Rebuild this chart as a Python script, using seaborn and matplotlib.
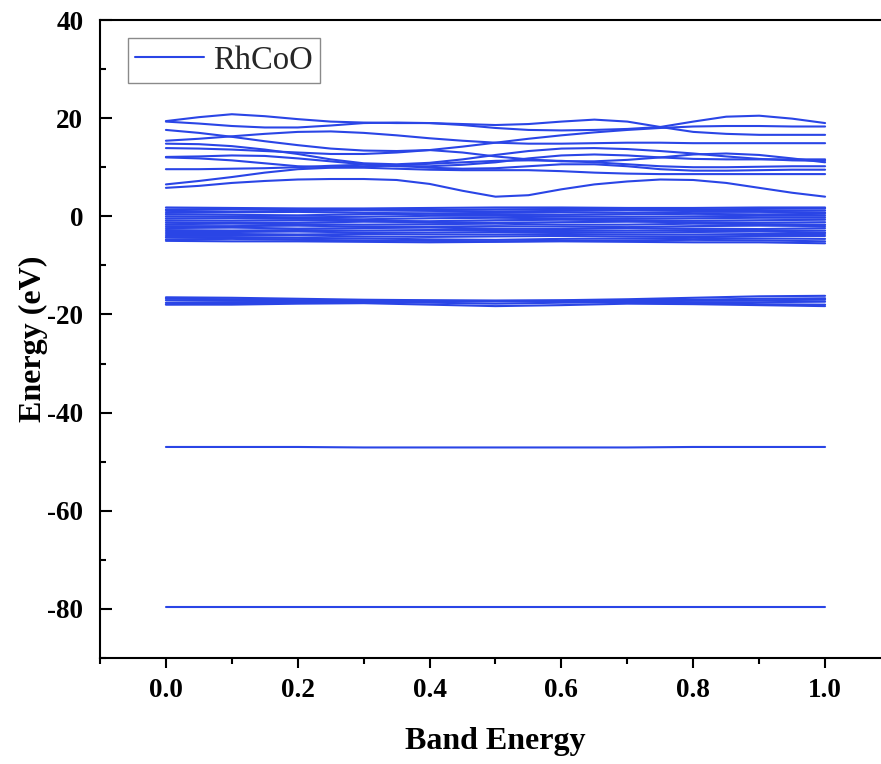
import matplotlib
matplotlib.use("Agg")
import numpy as np
import pandas as pd
import seaborn as sns
import matplotlib.pyplot as plt
from matplotlib.ticker import MultipleLocator, FormatStrFormatter

# ---------------------------------------------------------------- data
# k-path coordinates (fine grid for dispersive conduction bands,
# coarse grid for the nearly flat valence / semicore bands)
K_FINE = [0.0, 0.05, 0.1, 0.15, 0.2, 0.25, 0.3, 0.35, 0.4, 0.45, 0.5,
          0.55, 0.6, 0.65, 0.7, 0.75, 0.8, 0.85, 0.9, 0.95, 1.0]
K_COARSE = [0.0, 0.1, 0.2, 0.3, 0.4, 0.5, 0.6, 0.7, 0.8, 0.9, 1.0]

# conduction bands (eV) on K_FINE
upper_bands = [
    [19.4, 20.2, 20.8, 20.4, 19.8, 19.3, 19.1, 19.0, 19.0, 18.8, 18.6,
     18.8, 19.3, 19.7, 19.3, 18.2, 17.2, 16.8, 16.6, 16.6, 16.6],
    [19.3, 18.9, 18.4, 18.1, 18.1, 18.5, 19.0, 19.1, 19.0, 18.6, 18.0,
     17.6, 17.5, 17.6, 17.8, 18.2, 19.3, 20.3, 20.5, 19.9, 19.0],
    [17.6, 17.0, 16.2, 15.3, 14.5, 13.8, 13.4, 13.3, 13.5, 14.2, 15.0,
     15.8, 16.5, 17.1, 17.6, 18.0, 18.3, 18.4, 18.4, 18.3, 18.3],
    [15.4, 15.8, 16.3, 16.8, 17.2, 17.3, 17.0, 16.5, 15.9, 15.4, 15.0,
     14.8, 14.8, 14.9, 15.0, 15.0, 14.9, 14.9, 14.9, 14.9, 14.9],
    [14.8, 14.7, 14.3, 13.6, 12.7, 11.6, 10.8, 10.6, 10.9, 11.6, 12.5,
     13.3, 13.8, 13.9, 13.7, 13.3, 12.8, 12.2, 11.7, 11.4, 11.3],
    [13.9, 13.8, 13.6, 13.3, 13.0, 12.7, 12.7, 13.0, 13.5, 13.0, 12.2,
     11.6, 11.2, 11.2, 11.5, 12.0, 12.6, 12.8, 12.5, 11.8, 11.0],
    [12.1, 12.2, 12.4, 12.3, 11.8, 11.2, 10.6, 10.2, 10.2, 10.5, 11.0,
     11.8, 12.4, 12.6, 12.4, 12.0, 11.7, 11.6, 11.6, 11.6, 11.6],
    [12.0, 11.8, 11.4, 10.8, 10.2, 10.0, 10.1, 10.4, 10.7, 11.0, 11.3,
     11.4, 11.3, 11.0, 10.6, 10.2, 10.0, 10.0, 10.1, 10.2, 10.2],
    [9.6, 9.6, 9.7, 9.8, 10.0, 10.3, 10.5, 10.3, 9.9, 9.7, 9.8,
     10.2, 10.6, 10.6, 10.2, 9.6, 9.3, 9.3, 9.4, 9.5, 9.5],
    [6.5, 7.2, 8.0, 8.9, 9.6, 9.9, 9.9, 9.7, 9.5, 9.4, 9.4,
     9.4, 9.2, 8.9, 8.7, 8.6, 8.6, 8.6, 8.6, 8.6, 8.6],
    [5.8, 6.2, 6.8, 7.2, 7.5, 7.6, 7.6, 7.4, 6.6, 5.2, 4.0,
     4.3, 5.5, 6.5, 7.1, 7.5, 7.4, 6.8, 5.8, 4.8, 4.0],
]

# valence manifold around the Fermi level (eV) on K_COARSE
valence_bands = [
    [1.8, 1.7, 1.6, 1.6, 1.7, 1.8, 1.8, 1.7, 1.7, 1.8, 1.8],
    [1.4, 1.5, 1.5, 1.4, 1.3, 1.4, 1.5, 1.5, 1.4, 1.5, 1.6],
    [1.1, 1.0, 1.1, 1.2, 1.1, 1.0, 1.1, 1.2, 1.2, 1.1, 1.2],
    [0.7, 0.8, 0.9, 0.7, 0.6, 0.7, 0.8, 0.7, 0.9, 0.9, 0.8],
    [0.4, 0.3, 0.2, 0.4, 0.5, 0.4, 0.3, 0.4, 0.5, 0.4, 0.5],
    [0.0, -0.1, -0.2, -0.1, 0.1, 0.1, 0.0, -0.1, 0.0, 0.1, 0.1],
    [-0.4, -0.4, -0.5, -0.6, -0.4, -0.3, -0.4, -0.5, -0.4, -0.3, -0.3],
    [-0.8, -0.9, -0.8, -0.9, -1.0, -0.8, -0.7, -0.8, -0.9, -0.8, -0.7],
    [-1.2, -1.3, -1.3, -1.1, -1.2, -1.3, -1.2, -1.1, -1.2, -1.3, -1.2],
    [-1.6, -1.5, -1.6, -1.7, -1.6, -1.5, -1.7, -1.7, -1.5, -1.6, -1.7],
    [-2.0, -2.0, -1.9, -2.1, -2.1, -2.0, -2.1, -2.2, -2.0, -1.9, -2.0],
    [-2.4, -2.3, -2.5, -2.4, -2.3, -2.5, -2.6, -2.4, -2.5, -2.6, -2.4],
    [-2.8, -2.9, -2.8, -2.9, -2.8, -2.8, -2.9, -2.9, -2.8, -2.9, -2.9],
    [-3.2, -3.2, -3.1, -3.3, -3.3, -3.2, -3.2, -3.3, -3.2, -3.1, -3.3],
    [-3.6, -3.6, -3.7, -3.6, -3.7, -3.7, -3.6, -3.7, -3.7, -3.6, -3.6],
    [-4.0, -4.0, -3.9, -4.1, -4.2, -4.1, -4.0, -4.1, -4.1, -4.0, -4.0],
    [-4.3, -4.4, -4.4, -4.5, -4.7, -4.8, -4.6, -4.5, -4.4, -4.5, -4.6],
    [-4.7, -4.6, -4.8, -4.9, -5.0, -5.1, -5.0, -4.9, -4.8, -4.9, -5.1],
    [-5.0, -5.1, -5.1, -5.2, -5.3, -5.2, -5.1, -5.2, -5.3, -5.3, -5.5],
]

# semicore group near -17 eV on K_COARSE
semicore_bands = [
    [-16.5, -16.6, -16.8, -17.0, -17.1, -17.2, -17.1, -16.9, -16.6, -16.3, -16.2],
    [-16.8, -16.9, -17.1, -17.2, -17.2, -17.2, -17.2, -17.1, -17.0, -16.8, -16.7],
    [-17.1, -17.2, -17.2, -17.3, -17.3, -17.3, -17.3, -17.3, -17.2, -17.1, -17.0],
    [-17.6, -17.5, -17.4, -17.3, -17.3, -17.3, -17.3, -17.4, -17.5, -17.5, -17.4],
    [-17.9, -17.8, -17.6, -17.5, -17.6, -17.8, -17.6, -17.5, -17.7, -17.9, -18.0],
    [-18.0, -18.0, -17.8, -17.7, -18.0, -18.3, -18.1, -17.8, -17.9, -18.1, -18.3],
]

# deep core levels on K_COARSE
core_bands = [
    [-47.0, -47.0, -47.0, -47.1, -47.1, -47.1, -47.1, -47.1, -47.0, -47.0, -47.0],
    [-79.6, -79.6, -79.6, -79.6, -79.6, -79.6, -79.6, -79.6, -79.6, -79.6, -79.6],
]

LABEL = "RhCoO"
BLUE = "#2a45e6"

# ---------------------------------------------------------------- long table
rows = []
band_id = 0
for kgrid, group in [(K_FINE, upper_bands), (K_COARSE, valence_bands),
                     (K_COARSE, semicore_bands), (K_COARSE, core_bands)]:
    for band in group:
        for k, e in zip(kgrid, band):
            rows.append((band_id, k, e))
        band_id += 1
df = pd.DataFrame(rows, columns=["band", "k", "energy"])

# ---------------------------------------------------------------- figure
sns.set_theme(style="ticks")
plt.rcParams["font.family"] = ["Liberation Serif", "DejaVu Serif"]
plt.rcParams["font.weight"] = "bold"
plt.rcParams["axes.unicode_minus"] = False

fig = plt.figure(figsize=(8.81, 7.64), dpi=100, facecolor="white")
ax = fig.add_axes([100 / 881, 106 / 764, 791 / 881, 638 / 764])

sns.lineplot(data=df, x="k", y="energy", units="band", estimator=None,
             sort=False, color=BLUE, linewidth=1.5, legend=False, ax=ax)

ax.set_xlim(-0.1, 1.1)
ax.set_ylim(-90, 40)
ax.xaxis.set_major_locator(MultipleLocator(0.2))
ax.xaxis.set_minor_locator(MultipleLocator(0.1))
ax.yaxis.set_major_locator(MultipleLocator(20))
ax.yaxis.set_minor_locator(MultipleLocator(10))
ax.xaxis.set_major_formatter(FormatStrFormatter("%.1f"))

for side in ["left", "bottom", "top", "right"]:
    ax.spines[side].set_linewidth(1.5)
    ax.spines[side].set_color("black")

ax.tick_params(axis="x", which="both", direction="out", top=False,
               width=1.5, labelsize=19.5, pad=7, colors="black")
ax.tick_params(axis="x", which="major", length=7.5)
ax.tick_params(axis="x", which="minor", length=4)
ax.tick_params(axis="y", which="both", direction="in", right=False,
               width=1.5, labelsize=19.5, pad=12, colors="black")
ax.tick_params(axis="y", which="major", length=8.5)
ax.tick_params(axis="y", which="minor", length=4.5)

ax.set_xlabel("Band Energy", fontsize=23, fontweight="bold", color="black")
ax.set_ylabel("Energy (eV)", fontsize=23, fontweight="bold", color="black")
ax.xaxis.set_label_coords(0.5, -0.108)
ax.yaxis.set_label_coords(-0.066, 0.5)

leg = ax.legend(handles=[ax.lines[0]], labels=[LABEL], loc="upper left",
                bbox_to_anchor=(28 / 791, 1 - 18 / 638), borderaxespad=0,
                frameon=True, fancybox=False, edgecolor="#8a8a8a",
                framealpha=1, handlelength=2.1, handletextpad=0.3,
                borderpad=0.22,
                prop={"family": "Liberation Serif", "weight": "normal",
                      "size": 23.5})
leg.get_frame().set_linewidth(1.0)

fig.savefig("out.png", dpi=100, facecolor="white")
